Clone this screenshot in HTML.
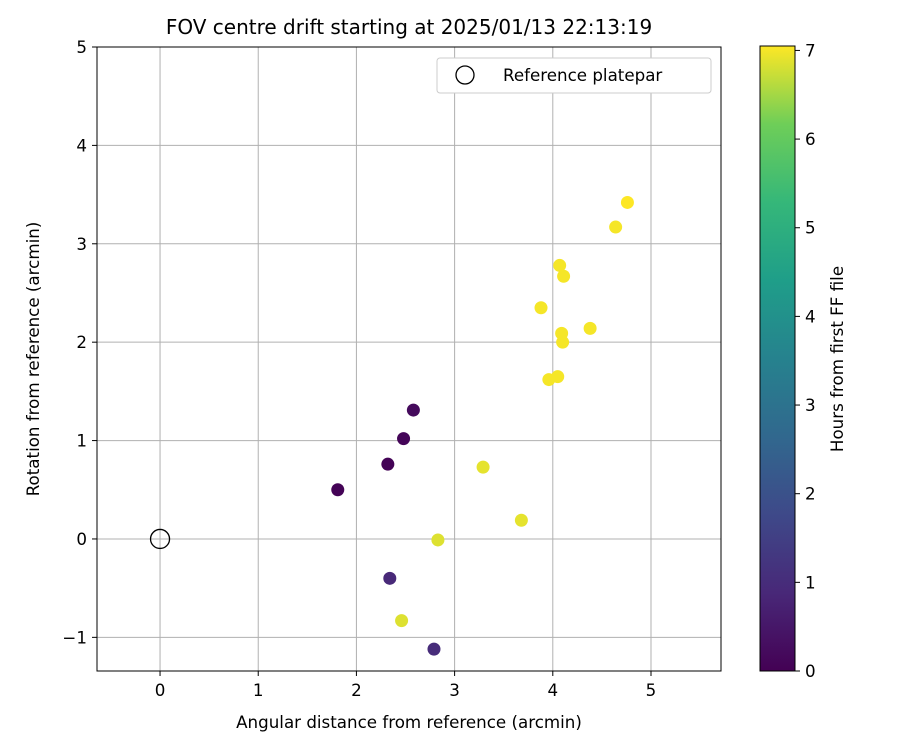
<!DOCTYPE html>
<html><head><meta charset="utf-8">
<style>
html,body{margin:0;padding:0;background:#fff;}
svg text{font-family:"DejaVu Sans","Liberation Sans",sans-serif;fill:#000;}
</style></head>
<body>
<svg id="chart" width="900" height="750" xmlns="http://www.w3.org/2000/svg">
<defs>
<linearGradient id="vir" x1="0" y1="1" x2="0" y2="0">
<stop offset="0" stop-color="#440154"/><stop offset="0.125" stop-color="#482878"/>
<stop offset="0.25" stop-color="#3e4989"/><stop offset="0.375" stop-color="#31688e"/>
<stop offset="0.5" stop-color="#26828e"/><stop offset="0.625" stop-color="#1f9e89"/>
<stop offset="0.75" stop-color="#35b779"/><stop offset="0.875" stop-color="#6ece58"/>
<stop offset="1" stop-color="#fde725"/>
</linearGradient>
</defs>
<g id="grid"></g>
<g id="marks"></g>
<rect x="97" y="47" width="624" height="624" fill="none" stroke="#000" stroke-width="1"/>
<g id="ticks"></g>
<text x="409" y="34" font-size="20" text-anchor="middle">FOV centre drift starting at 2025/01/13 22:13:19</text>
<text x="409" y="728" font-size="16.7" text-anchor="middle">Angular distance from reference (arcmin)</text>
<text transform="translate(39,359) rotate(-90)" font-size="16.7" text-anchor="middle">Rotation from reference (arcmin)</text>
<g>
<rect x="437" y="58" width="274" height="35" rx="3" fill="#fff" stroke="#ccc"/>
<circle cx="465" cy="75" r="9" fill="none" stroke="#000" stroke-width="1.3"/>
<text x="503" y="81" font-size="16.7">Reference platepar</text>
</g>
<rect x="760" y="46" width="35" height="625" fill="url(#vir)" stroke="#000" stroke-width="1"/>
<g id="cbticks"></g>
<text transform="translate(843,359) rotate(-90)" font-size="16.7" text-anchor="middle">Hours from first FF file</text>
</svg>
<script>
const xs=[1.81,2.32,2.48,2.58,2.34,2.46,2.79,2.83,3.29,3.68,3.96,4.05,3.88,4.07,4.11,4.09,4.10,4.38,4.64,4.76];
const ys=[0.50,0.76,1.02,1.31,-0.40,-0.83,-1.12,-0.01,0.73,0.19,1.62,1.65,2.35,2.78,2.67,2.09,2.00,2.14,3.17,3.42];
const hours=[0.05,0.05,0.1,0.2,0.9,6.85,1.0,6.85,6.9,6.9,7.0,7.0,7.0,7.0,7.0,7.0,7.0,7.0,7.0,7.05];
const xTicks=[0,1,2,3,4,5];
const yTicks=[-1,0,1,2,3,4,5];
const yTickLabels=["\u22121","0","1","2","3","4","5"];
const cTicks=[0,1,2,3,4,5,6,7];
const XMIN=-0.642,XMAX=5.713,YMIN=-1.342,YMAX=5.0,CMAX=7.05;
const sx=v=>97+(v-XMIN)/(XMAX-XMIN)*624;
const sy=v=>671-(v-YMIN)/(YMAX-YMIN)*624;
const sc=v=>671-v/CMAX*625;
const NS="http://www.w3.org/2000/svg";
const vir=["#440154","#482878","#3e4989","#31688e","#26828e","#1f9e89","#35b779","#6ece58","#fde725"];
function hex(h){return [1,3,5].map(i=>parseInt(h.substr(i,2),16));}
function cmap(v){let t=Math.max(0,Math.min(1,v/CMAX))*8;let i=Math.min(7,Math.floor(t));let f=t-i;let a=hex(vir[i]),b=hex(vir[i+1]);return "rgb("+a.map((c,k)=>Math.round(c+(b[k]-c)*f)).join(",")+")";}
function mk(tag,attrs,parent){const e=document.createElementNS(NS,tag);for(const k in attrs)e.setAttribute(k,attrs[k]);parent.appendChild(e);return e;}
const grid=document.getElementById('grid'),ticks=document.getElementById('ticks'),marks=document.getElementById('marks'),cb=document.getElementById('cbticks');
xTicks.forEach(v=>{
 const g=mk('line',{x1:sx(v),x2:sx(v),y1:47,y2:671,stroke:'#b0b0b0','stroke-width':1},grid);
 
 
 mk('line',{x1:sx(v),x2:sx(v),y1:671,y2:676,stroke:'#000'},ticks);
 const t=mk('text',{x:sx(v),y:696,'font-size':16.7,'text-anchor':'middle'},ticks);t.textContent=v;
 
 
});
yTicks.forEach((v,i)=>{
 const g=mk('line',{x1:97,x2:721,y1:sy(v),y2:sy(v),stroke:'#b0b0b0','stroke-width':1},grid);
 
 
 mk('line',{x1:92,x2:97,y1:sy(v),y2:sy(v),stroke:'#000'},ticks);
 const t=mk('text',{x:87,y:sy(v)+6,'font-size':16.7,'text-anchor':'end'},ticks);t.textContent=yTickLabels[i];
 
 
});
const ref=mk('circle',{cx:sx(0),cy:sy(0),r:9.5,fill:'none',stroke:'#000','stroke-width':1.3},marks);


xs.forEach((x,i)=>{
 const c=mk('circle',{cx:sx(x),cy:sy(ys[i]),r:6.5,fill:cmap(hours[i])},marks);
 
 
});
cTicks.forEach(v=>{
 mk('line',{x1:795,x2:800,y1:sc(v),y2:sc(v),stroke:'#000'},cb);
 const t=mk('text',{x:805,y:sc(v)+6,'font-size':16.7},cb);t.textContent=v;
 
 
});
</script>
</body></html>
